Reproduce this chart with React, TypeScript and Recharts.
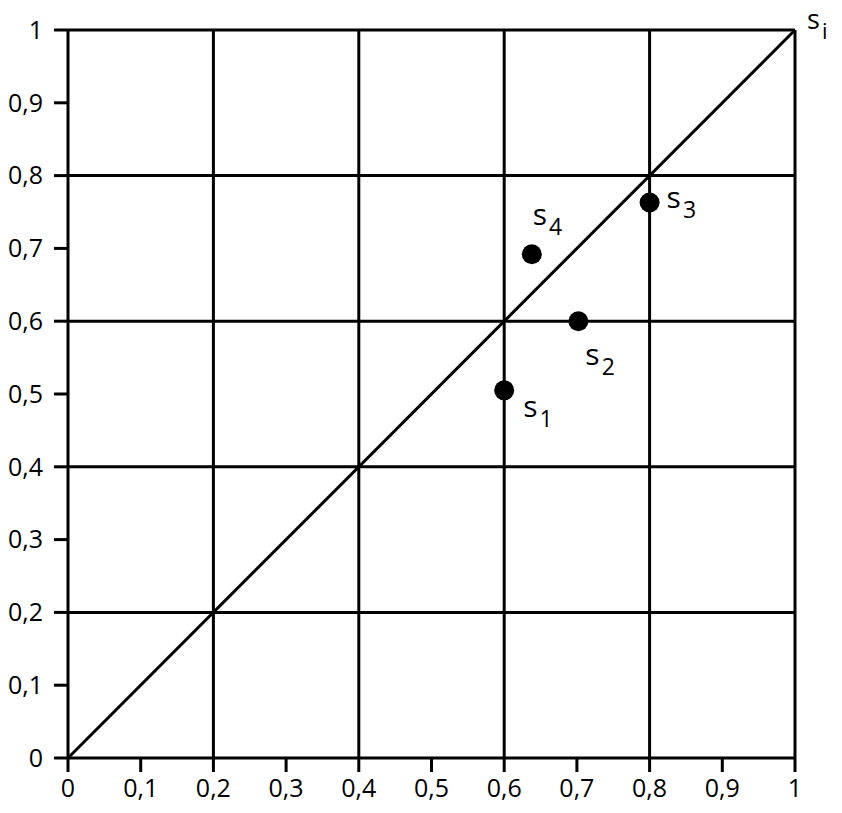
import React from "react";
import { ScatterChart, Scatter, XAxis, YAxis, ReferenceLine, ReferenceDot } from "recharts";

const pointNames = ["1", "2", "3", "4"];
const pointX = [0.6, 0.702, 0.8, 0.638];
const pointY = [0.505, 0.6, 0.763, 0.692];
const tickValues = [0, 0.1, 0.2, 0.3, 0.4, 0.5, 0.6, 0.7, 0.8, 0.9, 1];
const gridValues = [0.2, 0.4, 0.6, 0.8, 1];
const diagonal = [
  { x: 0, y: 0 },
  { x: 1, y: 1 },
];
const cornerLabel = "i";

// label offsets (pixels) relative to each point
const labelOffsets = [
  { dx: 19, dy: 27 },
  { dx: 7, dy: 44 },
  { dx: 17, dy: 5 },
  { dx: 1, dy: -29 },
];

const data = pointNames.map((n, i) => ({ x: pointX[i], y: pointY[i], name: n, idx: i }));

const FONT = "'Open Sans', sans-serif";
const fmt = (v: number) => String(v).replace(".", ",");

const SubLabel = ({ x, y, sub, size = 30, subSize = 23 }: any) => (
  <text x={x} y={y} fontFamily={FONT} fill="#000">
    <tspan fontSize={size}>s</tspan>
    <tspan fontSize={subSize} dx={2} dy={10}>
      {sub}
    </tspan>
  </text>
);

const PointShape = (props: any) => {
  const { cx, cy, payload } = props;
  const off = labelOffsets[payload.idx];
  return (
    <g>
      <circle cx={cx} cy={cy} r={10} fill="#000" />
      <SubLabel x={cx + off.dx} y={cy + off.dy} sub={payload.name} />
    </g>
  );
};

const CornerLabel = (props: any) => {
  const vb = props.viewBox || {};
  const cx = (vb.x ?? 0) + (vb.width ?? 0) / 2;
  const cy = (vb.y ?? 0) + (vb.height ?? 0) / 2;
  return <SubLabel x={cx + 12} y={cy - 1} sub={cornerLabel} size={27} subSize={22} />;
};

export default function App() {
  const tickStyle = { fontFamily: FONT, fontSize: 25, fill: "#000" };
  const lineStyle = { stroke: "#000", strokeWidth: 3 };
  return (
    <div style={{ marginTop: -8, marginLeft: -8 }}>
      <ScatterChart
        width={842}
        height={813}
        margin={{ top: 30, right: 47, bottom: 5, left: 8 }}
      >
        <XAxis
          type="number"
          dataKey="x"
          domain={[0, 1]}
          ticks={tickValues}
          tickFormatter={fmt}
          interval={0}
          height={50}
          tickSize={14}
          tickMargin={7}
          tick={tickStyle}
          axisLine={lineStyle}
          tickLine={lineStyle}
          allowDataOverflow
        />
        <YAxis
          type="number"
          dataKey="y"
          domain={[0, 1]}
          ticks={tickValues}
          tickFormatter={fmt}
          interval={0}
          width={60}
          tickSize={14}
          tickMargin={11}
          tick={tickStyle}
          axisLine={lineStyle}
          tickLine={lineStyle}
          allowDataOverflow
        />
        {gridValues.map((v) => (
          <ReferenceLine key={"gx" + v} x={v} stroke="#000" strokeWidth={3} />
        ))}
        {gridValues.map((v) => (
          <ReferenceLine key={"gy" + v} y={v} stroke="#000" strokeWidth={3} />
        ))}
        <ReferenceLine segment={diagonal} stroke="#000" strokeWidth={3} />
        <ReferenceDot x={1} y={1} r={0} stroke="none" fill="none" label={<CornerLabel />} />
        <Scatter data={data} shape={PointShape} isAnimationActive={false} />
      </ScatterChart>
    </div>
  );
}
